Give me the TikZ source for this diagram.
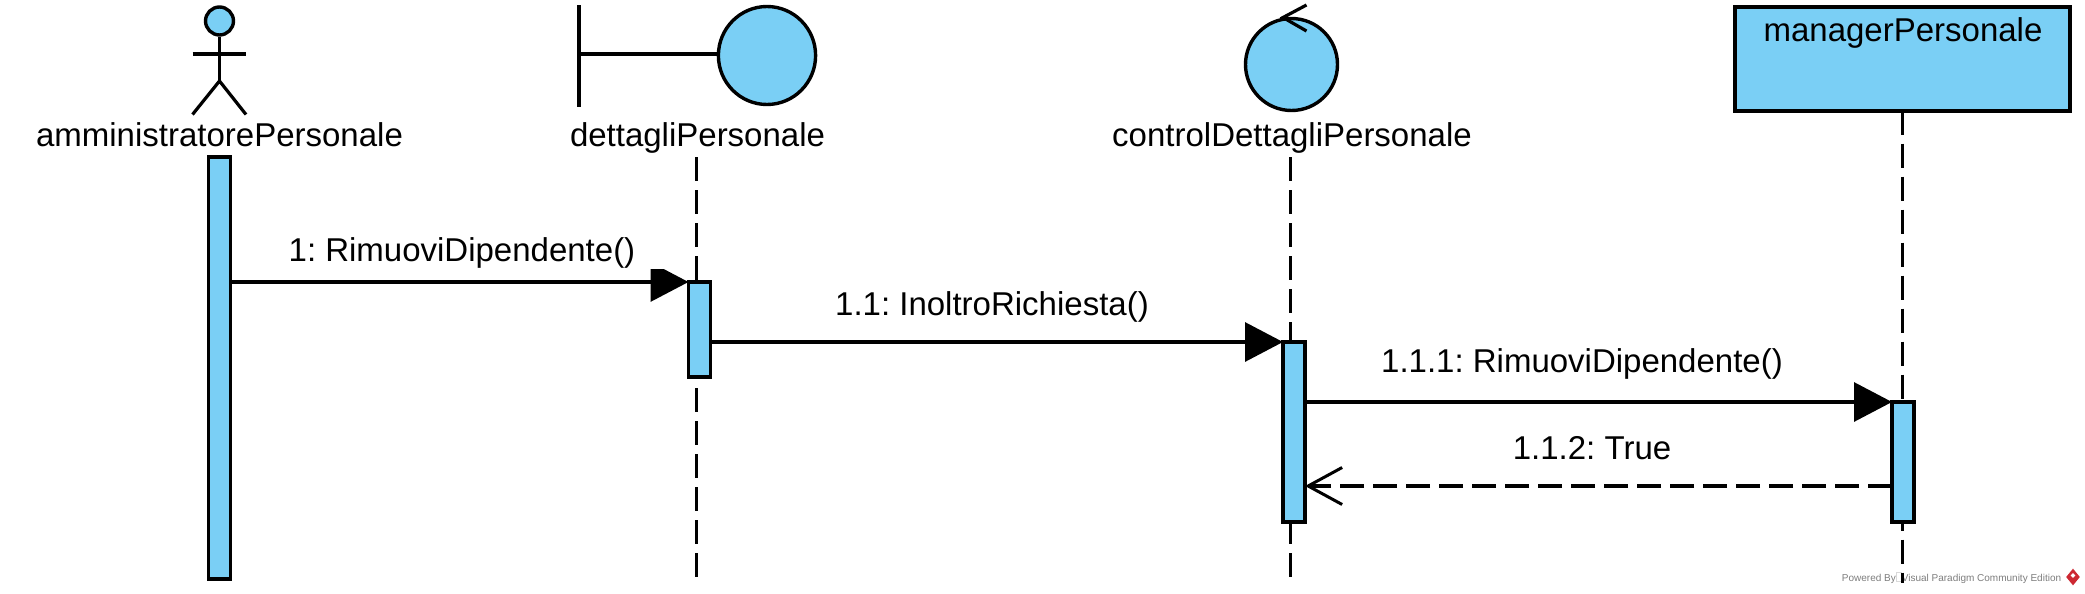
\documentclass[tikz,border=0pt]{standalone}
\usepackage{fontspec}
\setmainfont{Liberation Sans}
\usepackage{tikz}
\usetikzlibrary{arrows.meta, backgrounds, positioning, shapes.geometric}
\frenchspacing
\definecolor{umlblue}{RGB}{122,207,245}
\definecolor{vpgray}{RGB}{125,125,125}
\definecolor{vpred}{RGB}{205,40,50}
\tikzstyle{umlshape}=[draw=black, fill=umlblue, line width=1.7pt, inner sep=0pt]
\tikzstyle{activation}=[rectangle, draw=black, fill=umlblue, line width=1.7pt, minimum width=11pt, inner sep=0pt, outer sep=0pt]
\tikzstyle{stroke}=[black, line width=1.6pt]
\tikzstyle{lifeline}=[black, line width=1.5pt, dash pattern=on 12pt off 4.5pt]
\tikzstyle{call}=[black, line width=1.6pt, -{Triangle[length=19pt, width=19.5pt]}]
\tikzstyle{reply}=[black, line width=1.6pt, dash pattern=on 12pt off 4.5pt, -{Straight Barb[length=17pt, width=18.5pt, line width=1.5pt]}]
\tikzstyle{rolename}=[inner sep=0pt, anchor=base, font=\fontsize{16.5pt}{19pt}\selectfont]
\tikzstyle{msg}=[fill=white, inner xsep=16pt, inner ysep=0.5pt, anchor=base, font=\fontsize{16.5pt}{19pt}\selectfont]
\begin{document}
\begin{tikzpicture}[x=0.5pt, y=-0.5pt]
          \useasboundingbox (0,0) rectangle (2085,594);

          % actor
          \node [umlshape, circle, minimum size=14pt] (head) at (219.5,21) {};
          \coordinate (hip) at (219.5,81);
          \coordinate (handl) at (192.5,54);
          \coordinate (handr) at (246,54);
          \coordinate (footl) at (192.5,114.5);
          \coordinate (footr) at (246,114.5);
          \draw [stroke] (head) -- (hip);
          \draw [stroke] (handl) -- (handr);
          \draw [stroke] (footl) -- (hip) -- (footr);
          \node [rolename] (actorname) at (219.5,146) {amministratorePersonale};

          % boundary
          \node [umlshape, ellipse, minimum width=48.6pt, minimum height=49pt] (bound) at (767,55.5) {};
          \coordinate (barT) at (579,5);
          \coordinate (barB) at (579,106.5);
          \coordinate (barM) at (579,54);
          \draw [stroke] (barT) -- (barB);
          \draw [stroke] (barM) -- (bound.west |- barM);
          \node [rolename] (boundname) at (697.5,146) {dettagliPersonale};

          % control
          \node [umlshape, circle, minimum size=46pt] (ctrl) at (1291.5,64.5) {};
          \coordinate (tipT) at (1306.5,5);
          \coordinate (tipM) at (1283,17.5);
          \coordinate (tipB) at (1306.5,31);
          \draw [stroke] (tipT) -- (tipM) -- (tipB);
          \node [rolename] (ctrlname) at (1292,146) {controlDettagliPersonale};

          % entity
          \node [umlshape, rectangle, minimum width=167.4pt, minimum height=52pt, line width=2pt, outer sep=0pt] (mgr) at (1902.8,58.5) {};
          \node [rolename] (mgrname) at (1903,41.5) {managerPersonale};

          % activations
          \node [activation, minimum height=211pt] (a1) at (219.5,367.8) {};
          \node [activation, minimum height=47.5pt] (a2) at (699.5,329.5) {};
          \node [activation, minimum height=90pt] (a3) at (1294,432) {};
          \node [activation, minimum height=60pt] (a4) at (1903,462) {};

          % lifelines
          \coordinate (l2top) at (696,157);
          \coordinate (l2end) at (696,577);
          \coordinate (l3top) at (1290.5,157);
          \coordinate (l3end) at (1290.5,577);
          \coordinate (l4end) at (1902.5,583);
          \begin{scope}[on background layer]
            \draw [lifeline] (l2top) -- (l2end);
            \draw [lifeline] (l3top) -- (l3end);
            \draw [lifeline] (mgr.south -| l4end) -- (l4end);
          \end{scope}

          % messages
          \draw [call] (a1.east |- a2.north) -- (a2.north west);
          \draw [call] (a2.east |- a3.north) -- (a3.north west);
          \draw [call] (a3.east |- a4.north) -- (a4.north west);
          \coordinate (r1) at (1900,486);
          \draw [reply] (a4.west |- r1) -- (a3.east |- r1);
          \node [msg] (m1) at (462,261.5) {1: RimuoviDipendente()};
          \node [msg] (m2) at (992,315) {1.1: InoltroRichiesta()};
          \node [msg] (m3) at (1582,372) {1.1.1: RimuoviDipendente()};
          \node [msg] (m4) at (1592,459) {1.1.2: True};

          % footer
          \node [inner sep=0pt, anchor=base west, text=vpgray, font=\fontsize{5pt}{6pt}\selectfont] (powered) at (1841.5,581) {Powered By\hspace{3pt}Visual Paradigm Community Edition};
          \draw [black!15, line width=0.3pt] (1896,572) rectangle (1901.5,581);
          \draw [lifeline] (1902.5,573) -- (l4end);
          \node [diamond, fill=vpred, minimum width=7pt, minimum height=8.5pt, inner sep=0pt] (vplogo) at (2073,577) {};
          \node [diamond, fill=white, minimum width=2.5pt, minimum height=2.5pt, inner sep=0pt] (vpmark) at (2073,575.5) {};
\end{tikzpicture}
\end{document}
